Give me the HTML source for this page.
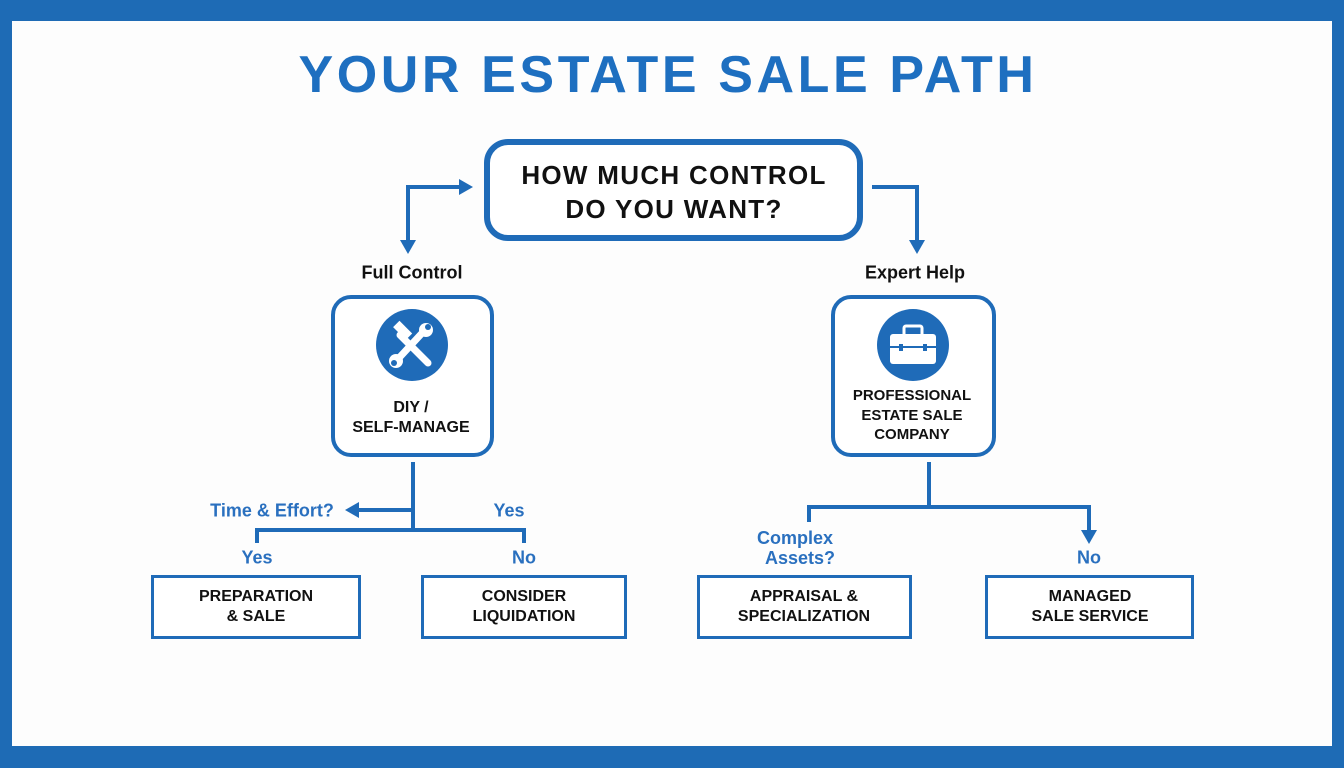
<!DOCTYPE html>
<html><head><meta charset="utf-8"><style>
html,body{margin:0;padding:0}
body{width:1344px;height:768px;background:#1e6bb5;position:relative;overflow:hidden;font-family:"Liberation Sans",sans-serif}
.in{position:absolute;left:12px;top:21px;width:1320px;height:725px;background:#fdfdfd}
.t{position:absolute;white-space:nowrap;font-weight:bold;text-align:center;transform:translate(-50%,-50%);line-height:1.15}
.box{position:absolute;box-sizing:border-box;border:3px solid #1f6bb8;background:#fff}
</style></head><body>
<div class="in"></div>
<div class="t" style="left:668px;top:76px;font-size:52px;color:#1e6fc0;letter-spacing:3.6px">YOUR ESTATE SALE PATH</div>
<div class="box" style="left:484px;top:139px;width:379px;height:102px;border:6px solid #1f6bb8;border-radius:24px"></div>
<div class="t" style="left:674px;top:192px;font-size:26px;color:#111;line-height:34px;letter-spacing:1.3px">HOW MUCH CONTROL<br>DO YOU WANT?</div>
<div class="box" style="left:331px;top:295px;width:163px;height:162px;border:4px solid #1f6bb8;border-radius:20px"></div>
<div class="box" style="left:831px;top:295px;width:165px;height:162px;border:4px solid #1f6bb8;border-radius:20px"></div>
<svg width="1344" height="768" style="position:absolute;left:0;top:0">
<g stroke="#1f6bb8" stroke-width="4" fill="none">
<path d="M408 240 V187 H462"/><path d="M872 187 H917 V242"/>
<path d="M413 462 V530"/><path d="M413 510 H356"/><path d="M257 543 V530 H524 V543"/>
<path d="M929 462 V507"/><path d="M809 522 V507 H1089 V532"/>
</g>
<g fill="#1f6bb8">
<polygon points="473,187 459,179 459,195"/>
<polygon points="408,254 400,240 416,240"/>
<polygon points="917,254 909,240 925,240"/>
<polygon points="345,510 359,502 359,518"/>
<polygon points="1089,544 1081,530 1097,530"/>
<circle cx="412" cy="345" r="36"/><circle cx="913" cy="345" r="36"/>
</g>
<g stroke="#fff" stroke-width="7" stroke-linecap="round">
<path d="M400 335 L428 363"/><path d="M424 331 L398 359"/>
</g>
<rect x="394" y="326" width="18" height="9" fill="#fff" transform="rotate(45 403 330)"/>
<circle cx="426" cy="330" r="7" fill="#fff"/><circle cx="428" cy="327" r="3" fill="#1f6bb8"/>
<circle cx="396" cy="361" r="7" fill="#fff"/><circle cx="394" cy="363" r="3" fill="#1f6bb8"/>
<rect x="890" y="334" width="46" height="30" rx="3" fill="#fff"/>
<rect x="904" y="326" width="18" height="10" rx="2" fill="none" stroke="#fff" stroke-width="3"/>
<path d="M890 347 H936" stroke="#1f6bb8" stroke-width="2"/>
<rect x="899" y="344" width="4" height="7" fill="#1f6bb8"/><rect x="923" y="344" width="4" height="7" fill="#1f6bb8"/>
</svg>
<div class="t" style="left:412px;top:273px;font-size:18px;color:#111">Full Control</div>
<div class="t" style="left:915px;top:273px;font-size:18px;color:#111">Expert Help</div>
<div class="t" style="left:411px;top:418px;font-size:16px;color:#111;line-height:20px">DIY /<br>SELF-MANAGE</div>
<div class="t" style="left:912px;top:415px;font-size:15px;color:#111;line-height:19.5px">PROFESSIONAL<br>ESTATE SALE<br>COMPANY</div>
<div class="t" style="left:272px;top:511px;font-size:18px;color:#2a70bf">Time &amp; Effort?</div>
<div class="t" style="left:509px;top:511px;font-size:18px;color:#2a70bf">Yes</div>
<div class="t" style="left:257px;top:558px;font-size:18px;color:#2a70bf">Yes</div>
<div class="t" style="left:524px;top:558px;font-size:18px;color:#2a70bf">No</div>
<div class="t" style="left:795px;top:548px;font-size:18px;color:#2a70bf;line-height:20px">Complex<br>&nbsp;&nbsp;Assets?</div>
<div class="t" style="left:1089px;top:558px;font-size:18px;color:#2a70bf">No</div>
<div class="box" style="left:151px;top:575px;width:210px;height:64px"></div>
<div class="box" style="left:421px;top:575px;width:206px;height:64px"></div>
<div class="box" style="left:697px;top:575px;width:215px;height:64px"></div>
<div class="box" style="left:985px;top:575px;width:209px;height:64px"></div>
<div class="t" style="left:256px;top:607px;font-size:16px;color:#111;line-height:20px">PREPARATION<br>&amp; SALE</div>
<div class="t" style="left:524px;top:607px;font-size:16px;color:#111;line-height:20px">CONSIDER<br>LIQUIDATION</div>
<div class="t" style="left:804px;top:607px;font-size:16px;color:#111;line-height:20px">APPRAISAL &amp;<br>SPECIALIZATION</div>
<div class="t" style="left:1090px;top:607px;font-size:16px;color:#111;line-height:20px">MANAGED<br>SALE SERVICE</div>
</body></html>
